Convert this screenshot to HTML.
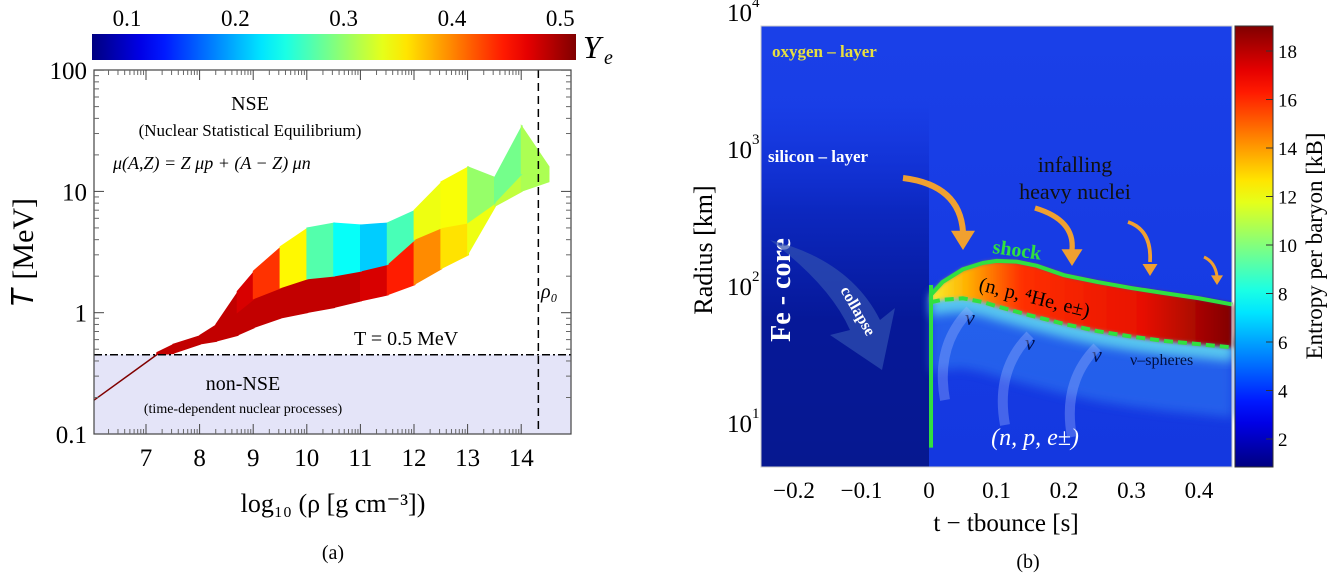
<!DOCTYPE html>
<html><head><meta charset="utf-8"><style>
body{margin:0;background:#fff;width:1333px;height:581px;overflow:hidden}
svg{font-family:"Liberation Serif",serif}
</style></head><body>
<svg id="s" width="1333" height="581">
<defs>
<linearGradient id="jetH" x1="0" x2="1" y1="0" y2="0"></linearGradient>
<linearGradient id="jetV" x1="0" x2="0" y1="1" y2="0"></linearGradient>
<linearGradient id="bgL" x1="0" x2="0" y1="0" y2="1"><stop offset="0" stop-color="#1230d8" stop-opacity="0"/><stop offset="0.3" stop-color="#0c28c0"/><stop offset="0.6" stop-color="#061898"/><stop offset="1" stop-color="#061890"/></linearGradient>
<linearGradient id="bgR" x1="0" x2="0" y1="0" y2="1"><stop offset="0" stop-color="#1a40e8"/><stop offset="1" stop-color="#1438e0"/></linearGradient>
<linearGradient id="hot" x1="0" x2="1" y1="0" y2="0"><stop offset="0" stop-color="#f8f030"/><stop offset="0.12" stop-color="#ffb000"/><stop offset="0.3" stop-color="#ff3000"/><stop offset="0.7" stop-color="#e81000"/><stop offset="1" stop-color="#800000"/></linearGradient>
<filter id="blur"><feGaussianBlur stdDeviation="5"/></filter>
<filter id="blur2"><feGaussianBlur stdDeviation="2"/></filter>
</defs>
<g id="left"></g>
<g id="right"></g>
</svg>
<script>
// ---------- data panel (a) ----------
const xs    = [7.2,7.5,8,8.3,8.7,9,9.5,10,10.5,11,11.5,12,12.5,13,13.5,14,14.5];
const tTop  = [.47,.55,.65,.8,1.5,2.2,3.5,5,5.5,5.3,5.5,7,12,16,13,35,16];
const tMid  = [.46,.5,.6,.7,1.0,1.3,1.6,1.9,2.0,2.2,2.5,4.0,5,5.5,8,14,14];
const tBot  = [.45,.46,.55,.58,.65,.75,.9,1.0,1.1,1.25,1.4,1.7,2.3,3.0,7.5,10,12];
const yeUp  = [.48,.48,.48,.48,.48,.46,.4,.28,.24,.21,.19,.32,.34,.33,.25,.3,.3];
const yeLow = [.48,.48,.48,.48,.48,.48,.48,.48,.48,.48,.46,.42,.36,.34,.32,.3,.3];
const xTicksA = [7,8,9,10,11,12,13,14];
const yTicksA = [0.1,1,10,100];
const yeTicks = [0.1,0.2,0.3,0.4,0.5];
// ---------- data panel (b) ----------
const tShock = [0.003,0.02,0.05,0.08,0.1,0.13,0.16,0.2,0.25,0.3,0.35,0.4,0.45];
const rShock = [85,105,130,145,150,148,138,118,105,95,87,80,72];
const tNu    = [0.003,0.02,0.05,0.08,0.1,0.15,0.2,0.25,0.3,0.35,0.4,0.45];
const rNu    = [75,78,80,75,70,60,52,46,42,39,37,35];
const tTicksB = [-0.2,-0.1,0,0.1,0.2,0.3,0.4];
const rTicksB = [1,2,3,4];
const sTicks  = [2,4,6,8,10,12,14,16,18];

const NS="http://www.w3.org/2000/svg";
function mk(p,tag,at,name,txt){const e=document.createElementNS(NS,tag);for(const k in at)e.setAttribute(k,at[k]);


if(txt!==undefined)e.textContent=txt;p.appendChild(e);return e;}
function jet(v){v=Math.max(0,Math.min(1,v));const f=x=>Math.round(255*Math.max(0,Math.min(1,x)));
return `rgb(${f(1.5-Math.abs(4*v-3))},${f(1.5-Math.abs(4*v-2))},${f(1.5-Math.abs(4*v-1))})`;}
for(const id of ['jetH','jetV']){const g=document.getElementById(id);for(let i=0;i<=20;i++){const st=document.createElementNS(NS,'stop');st.setAttribute('offset',i/20);st.setAttribute('stop-color',jet(i/20));g.appendChild(st);}}

// ---------- panel (a) ----------
const L=document.getElementById('left');
const XA=v=>146+(v-7)*53.6, YA=T=>434-(Math.log10(T)+1)*121.3;
mk(L,'rect',{x:94,y:YA(0.45),width:477,height:434-YA(0.45),fill:'#e4e4f8'},'non-nse-region');
mk(L,'rect',{x:92,y:34,width:484,height:26,fill:'url(#jetH)'},'ye-colorbar');
const CB=v=>127+(v-0.1)*(576-127)/0.4*0.965;
yeTicks.forEach(v=>{mk(L,'text',{x:CB(v),y:26,'font-size':23,'text-anchor':'middle'},'ye-tick-label',v.toFixed(1));});
mk(L,'text',{x:583,y:58,'font-size':32,'font-style':'italic'},'ye-label','Y');
mk(L,'text',{x:604,y:64,'font-size':20,'font-style':'italic'},'ye-label-sub','e');
function band(top,bot,ye,name){for(let i=0;i<xs.length-1;i++){
 const p=[[XA(xs[i]),YA(top[i])],[XA(xs[i+1]+0.02),YA(top[i+1])],[XA(xs[i+1]+0.02),YA(bot[i+1])],[XA(xs[i]),YA(bot[i])]];
 const c=jet(((ye[i]+ye[i+1])/2-0.05)/0.46);
 mk(L,'polygon',{points:p.map(q=>q.join(',')).join(' '),fill:c,stroke:c,'stroke-width':0.8},name);}}
band(tMid,tBot,yeLow,'ye-band-lower');
band(tTop,tMid,yeUp,'ye-band-upper');
mk(L,'line',{x1:94,y1:YA(0.19),x2:XA(7.2),y2:YA(0.45),stroke:'#800000','stroke-width':1.5},'trajectory-line');
mk(L,'line',{x1:94,y1:YA(0.45),x2:571,y2:YA(0.45),stroke:'#000','stroke-width':1.5,'stroke-dasharray':'8,3,2,3'},'t-05-line');
mk(L,'line',{x1:XA(14.32),y1:70,x2:XA(14.32),y2:434,stroke:'#000','stroke-width':1.5,'stroke-dasharray':'8,5'},'rho0-line');
mk(L,'rect',{x:94,y:70,width:477,height:364,fill:'none',stroke:'#444','stroke-width':1.2},'plot-frame-a');
xTicksA.forEach(v=>{mk(L,'line',{x1:XA(v),y1:434,x2:XA(v),y2:424,stroke:'#444'},'x-tick');mk(L,'line',{x1:XA(v),y1:70,x2:XA(v),y2:80,stroke:'#444'},'x-tick-top');
 for(let k=2;k<10;k++){const xm=XA(v-1+Math.log10(k));if(xm>94){mk(L,'line',{x1:xm,y1:434,x2:xm,y2:429,stroke:'#666'},'x-minor-tick');mk(L,'line',{x1:xm,y1:70,x2:xm,y2:75,stroke:'#666'},'x-minor-tick-top');}}
 mk(L,'text',{x:XA(v),y:466,'font-size':25,'text-anchor':'middle'},'x-tick-label',String(v));});
yTicksA.forEach((v,i)=>{mk(L,'line',{x1:94,y1:YA(v),x2:104,y2:YA(v),stroke:'#444'},'y-tick');mk(L,'line',{x1:571,y1:YA(v),x2:561,y2:YA(v),stroke:'#444'},'y-tick-right');
 if(i<3)for(let k=2;k<10;k++){const y=YA(v*k);mk(L,'line',{x1:94,y1:y,x2:99,y2:y,stroke:'#666'},'y-minor-tick');mk(L,'line',{x1:571,y1:y,x2:566,y2:y,stroke:'#666'},'y-minor-tick-right');}
 mk(L,'text',{x:87,y:YA(v)+9,'font-size':25,'text-anchor':'end'},'y-tick-label',String(v));});
mk(L,'text',{x:0,y:0,'font-size':30,'text-anchor':'middle',transform:'translate(33,252) rotate(-90)'},'y-axis-title','𝑇 [MeV]');
mk(L,'text',{x:333,y:512,'font-size':26,'text-anchor':'middle'},'x-axis-title','log₁₀ (ρ [g cm⁻³])');
mk(L,'text',{x:333,y:559,'font-size':20,'text-anchor':'middle'},'panel-a-caption','(a)');
mk(L,'text',{x:250,y:110,'font-size':20,'text-anchor':'middle'},'nse-label','NSE');
mk(L,'text',{x:250,y:136,'font-size':17,'text-anchor':'middle'},'nse-desc','(Nuclear Statistical Equilibrium)');
mk(L,'text',{x:113,y:169,'font-size':18,'font-style':'italic'},'nse-equation','μ(A,Z) = Z μp + (A − Z) μn');
mk(L,'text',{x:354,y:345,'font-size':20},'t05-label','T = 0.5 MeV');
mk(L,'text',{x:243,y:390,'font-size':20,'text-anchor':'middle'},'non-nse-label','non-NSE');
mk(L,'text',{x:243,y:413,'font-size':14,'text-anchor':'middle'},'non-nse-desc','(time-dependent nuclear processes)');
mk(L,'text',{x:541,y:298,'font-size':20,'font-style':'italic'},'rho0-label','ρ₀');

// ---------- panel (b) ----------
const R=document.getElementById('right');
const XB=t=>929+t*675, YB=r=>285-(Math.log10(r)-2)*137;
mk(R,'rect',{x:761,y:26,width:471,height:441,fill:'url(#bgR)'},'entropy-background');
mk(R,'rect',{x:761,y:100,width:168,height:367,fill:'url(#bgL)'},'fe-core-region');
const sp=tShock.map((t,i)=>[XB(t),YB(rShock[i])]), np=tNu.map((t,i)=>[XB(t),YB(rNu[i])]);
const hot=[...sp,...np.slice().reverse()].map(q=>q.join(',')).join(' ');
mk(R,'polygon',{points:np.map(q=>q[0]+','+(q[1]-8)).join(' ')+' '+np.slice().reverse().map(q=>q[0]+','+(q[1]+70)).join(' '),fill:'#2a70f0',opacity:0.7,filter:'url(#blur)'},'inner-glow');
mk(R,'polygon',{points:np.map(q=>q[0]+','+(q[1]-8)).join(' ')+' '+np.slice().reverse().map(q=>q[0]+','+(q[1]+14)).join(' '),fill:'#60d8f0',opacity:0.85,filter:'url(#blur)'},'cool-glow');
mk(R,'polygon',{points:hot,fill:'url(#hot)',filter:'url(#blur2)'},'hot-region');
mk(R,'polyline',{points:sp.map(q=>q.join(',')).join(' '),fill:'none',stroke:'#30e040','stroke-width':4},'shock-line');
mk(R,'polyline',{points:np.map(q=>q.join(',')).join(' '),fill:'none',stroke:'#30e040','stroke-width':4,'stroke-dasharray':'9,5'},'nu-sphere-line');
mk(R,'line',{x1:XB(0.003),y1:YB(6.5),x2:XB(0.003),y2:YB(100),stroke:'#30e040','stroke-width':4},'bounce-line');
mk(R,'rect',{x:761,y:26,width:471,height:441,fill:'none',stroke:'#ccc'},'plot-frame-b');
const SC=v=>439-(v-2)*24.25;
mk(R,'rect',{x:1235,y:26,width:38,height:441,fill:'url(#jetV)',stroke:'#333'},'entropy-colorbar');
sTicks.forEach(v=>{mk(R,'line',{x1:1266,y1:SC(v),x2:1273,y2:SC(v),stroke:'#333'},'cbar-tick');
 mk(R,'text',{x:1278,y:SC(v)+7,'font-size':19},'cbar-tick-label',String(v));});
mk(R,'text',{x:0,y:0,'font-size':23,'text-anchor':'middle',transform:'translate(1322,246) rotate(-90)'},'cbar-title','Entropy per baryon [kB]');
tTicksB.forEach(v=>{mk(R,'text',{x:XB(v),y:498,'font-size':23,'text-anchor':'middle'},'x-tick-label',(v<0?'−':'')+Math.abs(v).toString());});
rTicksB.forEach(v=>{const y=YB(Math.pow(10,v));mk(R,'text',{x:752,y:y+10,'font-size':25,'text-anchor':'end'},'y-tick-label','10');
 mk(R,'text',{x:752,y:y-4,'font-size':15},'y-tick-exp',String(v));});
mk(R,'text',{x:0,y:0,'font-size':26,'text-anchor':'middle',transform:'translate(712,250) rotate(-90)'},'y-axis-title','Radius [km]');
mk(R,'text',{x:1006,y:531,'font-size':25,'text-anchor':'middle'},'x-axis-title','t − tbounce [s]');
mk(R,'text',{x:1028,y:568,'font-size':20,'text-anchor':'middle'},'panel-b-caption','(b)');
mk(R,'text',{x:772,y:57,'font-size':17,'font-weight':'bold',fill:'#e8e040'},'oxygen-label','oxygen – layer');
mk(R,'text',{x:768,y:162,'font-size':17,'font-weight':'bold',fill:'#fff'},'silicon-label','silicon – layer');
mk(R,'text',{x:0,y:0,'font-size':28,'font-weight':'bold',fill:'#fff','text-anchor':'middle',transform:'translate(790,290) rotate(-90)'},'fe-core-label','Fe - core');
mk(R,'path',{d:'M770 240 Q850 260 880 320 L895 308 L882 370 L830 335 L850 330 Q830 285 770 240 Z',fill:'#3050b0',opacity:0.7},'collapse-arrow');
mk(R,'text',{x:0,y:0,'font-size':16,'font-weight':'bold',fill:'#fff',transform:'translate(840,290) rotate(60)'},'collapse-label','collapse');
mk(R,'text',{x:1075,y:172,'font-size':22,'text-anchor':'middle',fill:'#111'},'infalling-label','infalling');
mk(R,'text',{x:1075,y:199,'font-size':22,'text-anchor':'middle',fill:'#111'},'infalling-label-2','heavy nuclei');
[['M903 178 Q960 185 963 232',4,963,250],['M1035 208 Q1075 220 1072 250',3.5,1072,266],['M1128 222 Q1152 230 1150 262',2.5,1150,276],['M1204 257 Q1215 262 1217 276',2,1217,285]].forEach(a=>{
 mk(R,'path',{d:a[0],fill:'none',stroke:'#f0a030','stroke-width':a[1]*1.5},'infall-arrow');
 const w=a[1]*3;mk(R,'polygon',{points:`${a[2]-w},${a[3]-w*1.6} ${a[2]+w},${a[3]-w*1.6} ${a[2]},${a[3]}`,fill:'#f0a030'},'infall-arrowhead');});
mk(R,'text',{x:992,y:253,'font-size':20,'font-weight':'bold',fill:'#30e040',transform:'rotate(8 992 253)'},'shock-label','shock');
mk(R,'text',{x:978,y:290,'font-size':20,fill:'#000',transform:'rotate(14 978 290)'},'hot-composition-label','(n, p, ⁴He, e±)');
mk(R,'text',{x:1130,y:365,'font-size':16,fill:'#001040'},'nu-spheres-label','ν–spheres');
mk(R,'text',{x:1035,y:445,'font-size':24,'font-style':'italic',fill:'#fff','text-anchor':'middle'},'cold-composition-label','(n, p, e±)');
[[965,325],[1025,350],[1092,362]].forEach(p=>{mk(R,'text',{x:p[0],y:p[1],'font-size':22,'font-style':'italic',fill:'#001050'},'neutrino-label','ν');
 mk(R,'path',{d:`M${p[0]-20} ${p[1]+75} Q${p[0]-30} ${p[1]+20} ${p[0]+5} ${p[1]-15}`,fill:'none',stroke:'#a0b8ff','stroke-width':10,opacity:0.35},'neutrino-arrow');});
</script>
</body></html>
